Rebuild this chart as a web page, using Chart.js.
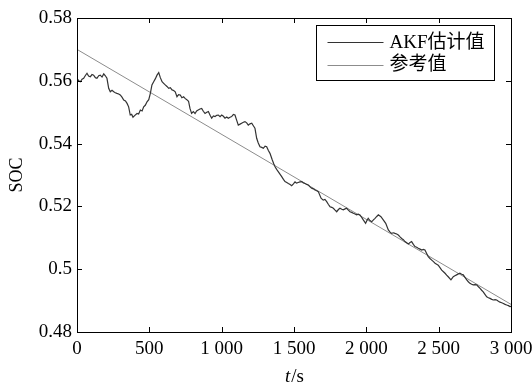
<!DOCTYPE html>
<html><head><meta charset="utf-8">
<script src="https://cdn.jsdelivr.net/npm/chart.js@4"></script>
<style>html,body{margin:0;padding:0;background:#fff;}canvas{display:block;}</style>
</head><body>
<canvas id="c" width="532" height="385"></canvas>
<script>
const akfTime = [0,12,23,35,46,58,69,80,92,104,115,127,138,150,161,173,185,196,207,219,230,242,254,265,276,288,299,311,323,335,346,357,368,378,387,400,415,426,438,450,461,472,484,496,507,518,530,541,553,565,576,588,599,610,622,634,645,657,668,679,691,702,714,725,737,747,759,771,781,792,804,816,827,838,850,862,873,885,897,908,920,931,943,954,966,977,989,1000,1012,1023,1035,1046,1058,1069,1081,1092,1104,1115,1127,1138,1150,1161,1173,1184,1196,1208,1219,1230,1242,1253,1265,1277,1288,1300,1311,1323,1334,1350,1360,1369,1380,1391,1403,1415,1427,1438,1450,1461,1473,1484,1496,1507,1518,1529,1541,1553,1565,1576,1588,1599,1611,1622,1634,1645,1657,1668,1687,1702,1714,1726,1738,1749,1761,1772,1784,1795,1807,1818,1830,1841,1853,1864,1876,1887,1899,1910,1922,1933,1945,1956,1968,1979,1995,2004,2013,2025,2037,2049,2060,2072,2083,2101,2117,2134,2152,2164,2175,2187,2198,2210,2221,2233,2244,2256,2267,2279,2290,2302,2313,2325,2336,2348,2359,2371,2383,2394,2405,2417,2428,2440,2452,2464,2475,2486,2497,2509,2521,2533,2544,2555,2566,2585,2601,2612,2624,2636,2647,2659,2670,2682,2694,2705,2716,2728,2739,2751,2763,2775,2786,2797,2808,2820,2832,2844,2855,2867,2878,2890,2901,2913,2924,2936,2947,2959,2970,2982,2993,3000];
const akfSoc = [0.5608,0.5600,0.5597,0.5605,0.5608,0.5617,0.5624,0.5615,0.5613,0.5620,0.5618,0.5610,0.5608,0.5616,0.5618,0.5612,0.5622,0.5616,0.5608,0.5576,0.5565,0.5570,0.5565,0.5562,0.5560,0.5558,0.5555,0.5548,0.5539,0.5536,0.5528,0.5517,0.5491,0.5493,0.5484,0.5490,0.5496,0.5494,0.5507,0.5504,0.5517,0.5522,0.5533,0.5540,0.5560,0.5587,0.5597,0.5606,0.5618,0.5626,0.5610,0.5597,0.5592,0.5587,0.5582,0.5576,0.5578,0.5571,0.5569,0.5565,0.5549,0.5556,0.5555,0.5546,0.5549,0.5544,0.5540,0.5535,0.5512,0.5496,0.5502,0.5496,0.5504,0.5507,0.5510,0.5512,0.5503,0.5496,0.5500,0.5502,0.5490,0.5481,0.5488,0.5486,0.5490,0.5491,0.5486,0.5491,0.5487,0.5481,0.5485,0.5481,0.5484,0.5486,0.5493,0.5491,0.5474,0.5459,0.5462,0.5465,0.5468,0.5470,0.5466,0.5459,0.5463,0.5465,0.5457,0.5449,0.5417,0.5402,0.5390,0.5388,0.5385,0.5392,0.5390,0.5378,0.5369,0.5348,0.5336,0.5326,0.5318,0.5311,0.5303,0.5295,0.5286,0.5279,0.5276,0.5273,0.5270,0.5266,0.5272,0.5278,0.5274,0.5276,0.5278,0.5279,0.5275,0.5273,0.5270,0.5268,0.5262,0.5258,0.5256,0.5252,0.5250,0.5247,0.5226,0.5220,0.5222,0.5215,0.5206,0.5199,0.5197,0.5194,0.5188,0.5183,0.5190,0.5194,0.5191,0.5189,0.5192,0.5194,0.5188,0.5183,0.5181,0.5178,0.5176,0.5173,0.5175,0.5173,0.5165,0.5157,0.5146,0.5155,0.5162,0.5155,0.5151,0.5157,0.5162,0.5168,0.5173,0.5167,0.5157,0.5146,0.5125,0.5118,0.5114,0.5116,0.5114,0.5112,0.5109,0.5103,0.5098,0.5094,0.5088,0.5084,0.5080,0.5085,0.5088,0.5079,0.5072,0.5070,0.5067,0.5064,0.5061,0.5063,0.5061,0.5050,0.5040,0.5034,0.5029,0.5024,0.5019,0.5016,0.5013,0.5005,0.4997,0.4992,0.4987,0.4981,0.4976,0.4966,0.4976,0.4979,0.4982,0.4985,0.4987,0.4984,0.4982,0.4974,0.4966,0.4960,0.4955,0.4952,0.4950,0.4951,0.4950,0.4944,0.4939,0.4933,0.4928,0.4920,0.4912,0.4909,0.4907,0.4904,0.4902,0.4903,0.4902,0.4898,0.4895,0.4893,0.4891,0.4888,0.4886,0.4884,0.4881,0.4882];
const refTime = [0, 3000];
const refSoc = [0.5700, 0.4888];
const xTickLabels = ['0','500','1 000','1 500','2 000','2 500','3 000'];
const yTickLabels = ['0.48','0.5','0.52','0.54','0.56','0.58'];
const seriesLabels = ['AKF估计值', '参考值'];
const xTitleParts = ['t', '/s'];
const yTitle = 'SOC';

const SERIF = "'Liberation Serif', 'Times New Roman', serif";
const LEGEND_FONT = "19px 'Liberation Serif', 'Noto Sans CJK SC', serif";
Chart.defaults.color = '#000';

const frameTicks = {
  id: 'frameTicks',
  afterDatasetsDraw(chart) {
    const {ctx, chartArea: ca, scales} = chart;
    ctx.save();
    ctx.strokeStyle = '#000';
    ctx.lineWidth = 1;
    ctx.beginPath();
    const L = 5;
    scales.x.ticks.forEach(t => {
      const px = Math.round(scales.x.getPixelForValue(t.value)) + 0.5;
      ctx.moveTo(px, ca.bottom); ctx.lineTo(px, ca.bottom - L);
      ctx.moveTo(px, ca.top); ctx.lineTo(px, ca.top + L);
    });
    scales.y.ticks.forEach(t => {
      const py = Math.round(scales.y.getPixelForValue(t.value)) + 0.5;
      ctx.moveTo(ca.left, py); ctx.lineTo(ca.left + L, py);
      ctx.moveTo(ca.right, py); ctx.lineTo(ca.right - L, py);
    });
    ctx.stroke();
    ctx.strokeRect(Math.round(ca.left) + 0.5, Math.round(ca.top) + 0.5, Math.round(ca.right - ca.left), Math.round(ca.bottom - ca.top));
    ctx.restore();
  }
};

const boxLegend = {
  id: 'boxLegend',
  afterDraw(chart) {
    const {ctx, chartArea: ca} = chart;
    const bx = Math.round(ca.right - 195) + 0.5, by = Math.round(ca.top + 7) + 0.5;
    const bw = 178, bh = 55;
    ctx.save();
    ctx.fillStyle = '#fff';
    ctx.fillRect(bx, by, bw, bh);
    ctx.strokeStyle = '#000';
    ctx.lineWidth = 1;
    ctx.strokeRect(bx, by, bw, bh);
    const rows = [by + 16.5, by + 39];
    chart.data.datasets.forEach((ds, i) => {
      ctx.strokeStyle = ds.borderColor;
      ctx.lineWidth = 1;
      ctx.beginPath();
      ctx.moveTo(bx + 11, Math.round(rows[i]) + 0.5);
      ctx.lineTo(bx + 67, Math.round(rows[i]) + 0.5);
      ctx.stroke();
      ctx.fillStyle = '#000';
      ctx.font = LEGEND_FONT;
      ctx.textBaseline = 'middle';
      ctx.textAlign = 'left';
      ctx.fillText(ds.label, bx + 73, rows[i] + 1);
    });
    ctx.restore();
  }
};

const xTitle = {
  id: 'xTitle',
  afterDraw(chart) {
    const {ctx, chartArea: ca} = chart;
    ctx.save();
    ctx.fillStyle = '#000';
    ctx.textBaseline = 'alphabetic';
    ctx.textAlign = 'left';
    const f1 = 'italic 19px ' + SERIF, f2 = '19px ' + SERIF;
    ctx.font = f1; const w1 = ctx.measureText(xTitleParts[0]).width;
    ctx.font = f2; const w2 = ctx.measureText(xTitleParts[1]).width;
    const cx = (ca.left + ca.right) / 2;
    const x0 = cx - (w1 + w2) / 2;
    const y = 382;
    ctx.font = f1; ctx.fillText(xTitleParts[0], x0, y);
    ctx.font = f2; ctx.fillText(xTitleParts[1], x0 + w1 + 1, y);
    ctx.restore();
  }
};

new Chart(document.getElementById('c'), {
  type: 'line',
  data: {
    datasets: [
      {
        label: seriesLabels[0],
        data: akfTime.map((t, i) => ({x: t, y: akfSoc[i]})),
        borderColor: '#333333',
        borderWidth: 1.2,
        pointRadius: 0,
        tension: 0,
        fill: false
      },
      {
        label: seriesLabels[1],
        data: refTime.map((t, i) => ({x: t, y: refSoc[i]})),
        borderColor: '#8c8c8c',
        borderWidth: 1,
        pointRadius: 0,
        tension: 0,
        fill: false
      }
    ]
  },
  options: {
    responsive: false,
    animation: false,
    layout: {padding: {left: 0, right: 21, top: 18, bottom: 0}},
    plugins: {legend: {display: false}, tooltip: {enabled: false}},
    scales: {
      x: {
        type: 'linear',
        min: 0, max: 3000,
        border: {display: false},
        grid: {display: false, drawTicks: false},
        ticks: {
          stepSize: 500,
          padding: 6,
          maxRotation: 0,
          autoSkip: false,
          font: {family: SERIF, size: 19},
          callback: (v, i) => xTickLabels[i]
        },
        afterFit(s) { s.height = 53; s.paddingLeft = 0; s.paddingRight = 0; }
      },
      y: {
        type: 'linear',
        min: 0.48, max: 0.58,
        border: {display: false},
        grid: {display: false, drawTicks: false},
        ticks: {
          stepSize: 0.02,
          padding: 5,
          autoSkip: false,
          font: {family: SERIF, size: 19},
          callback: (v, i) => yTickLabels[i]
        },
        title: {display: true, text: yTitle, font: {family: SERIF, size: 18}, padding: {top: 6, bottom: 0}},
        afterFit(s) { s.width = 77; s.paddingTop = 0; s.paddingBottom = 0; }
      }
    }
  },
  plugins: [frameTicks, boxLegend, xTitle]
});
</script>
</body></html>
